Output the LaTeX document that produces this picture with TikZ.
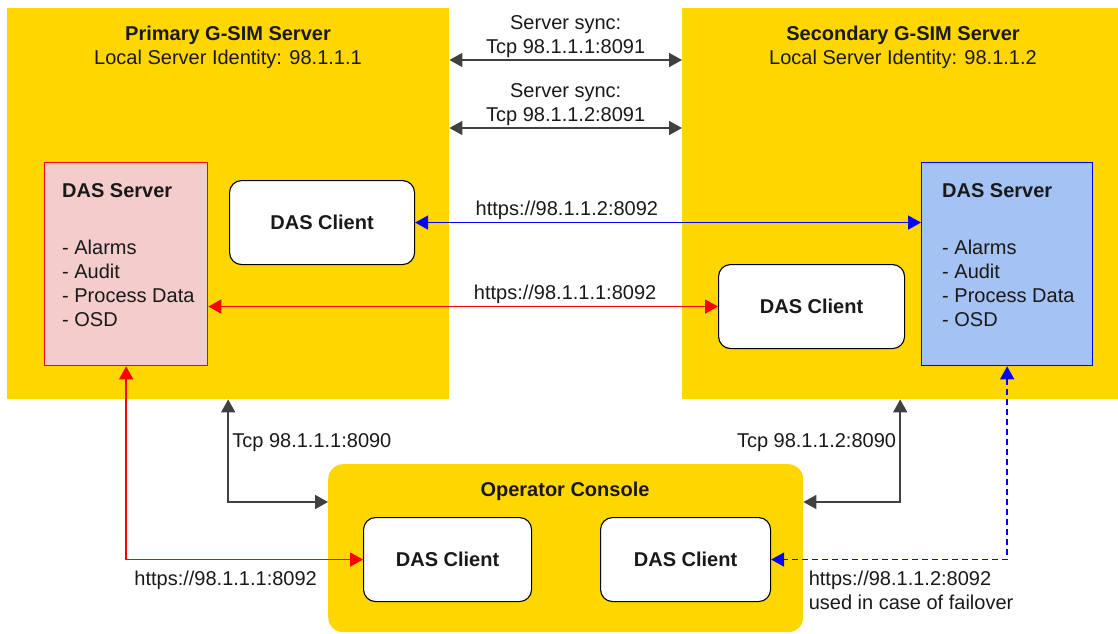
\documentclass[tikz,border=0pt]{standalone}
\usepackage{fontspec}
\setmainfont{Liberation Sans}
\usetikzlibrary{arrows.meta}
\definecolor{gold}{HTML}{FFD700}
\definecolor{pinkbox}{HTML}{F4CCCC}
\definecolor{bluebox}{HTML}{A4C2F4}
\definecolor{darkline}{HTML}{404040}
\newcommand\diafont{\fontsize{20}{24}\selectfont}
\begin{document}
\begin{tikzpicture}[x=1pt, y=-1pt,
    every node/.style={font=\diafont, text=black!90},
    >={Triangle[length=13pt,width=14pt]},
    area/.style={anchor=north west, fill=gold, inner sep=0},
    server/.style={anchor=north west, inner sep=0, line width=1.3pt,
      minimum width=163, minimum height=203},
    client/.style={anchor=north west, draw=black, fill=white, line width=1.1pt,
      rounded corners=12pt, minimum width=185, minimum height=84, font=\diafont\bfseries},
    dark/.style={draw=darkline, line width=1.7pt},
    redl/.style={draw=red, line width=1.5pt},
    bluel/.style={draw=blue, line width=1.5pt},
    lab/.style={inner sep=2pt}]
    \useasboundingbox (0,0) rectangle (1118,633);
    % servers and console
    \node[area, minimum width=442, minimum height=391] (prim) at (7,8) {};
    \node[area, minimum width=436, minimum height=391] (sec) at (682,8) {};
    \node[area, rounded corners=15pt, minimum width=475, minimum height=168] (con) at (328,464) {};
    \node[align=center] (primtitle) at (228,47) {\textbf{Primary G-SIM Server}\\Local Server Identity: 98.1.1.1};
    \node[align=center] (sectitle) at (903,47) {\textbf{Secondary G-SIM Server}\\Local Server Identity: 98.1.1.2};
    \node (contitle) at (565,491) {\textbf{Operator Console}};
    % DAS servers
    \node[server, draw=red, fill=pinkbox] (pds) at (44,162) {};
    \node[server, draw=blue, fill=bluebox, minimum width=171] (sds) at (921,162) {};
    \node[anchor=north west, align=left, inner sep=0] (pdstext) at ([xshift=18pt,yshift=-21pt]pds.north west)
      {\textbf{DAS Server}\\[33pt]- Alarms\\- Audit\\- Process Data\\- OSD};
    \node[anchor=north west, align=left, inner sep=0] (sdstext) at ([xshift=21pt,yshift=-21pt]sds.north west)
      {\textbf{DAS Server}\\[33pt]- Alarms\\- Audit\\- Process Data\\- OSD};
    % DAS clients
    \node[client] (pcli) at (229,180) {DAS Client};
    \node[client, minimum width=186] (scli) at (718,264) {DAS Client};
    \node[client, minimum width=168] (c1) at (363,517) {DAS Client};
    \node[client, minimum width=170] (c2) at (600,517) {DAS Client};
    % sync links
    \draw[dark, <->] ([yshift=-52pt]prim.north east) -- ([yshift=-52pt]sec.north west)
      node[midway, above, align=center, lab] {Server sync:\\Tcp 98.1.1.1:8091};
    \draw[dark, <->] ([yshift=-120pt]prim.north east) -- ([yshift=-120pt]sec.north west)
      node[midway, above, align=center, lab] {Server sync:\\Tcp 98.1.1.2:8091};
    % https links
    \draw[bluel, <->] (pcli.east) -- (pcli.east -| sds.west)
      node[pos=.3, above, lab] {https://98.1.1.2:8092};
    \draw[redl, <->] (pds.east |- scli.west) -- (scli.west)
      node[pos=.7, above, lab] {https://98.1.1.1:8092};
    % console links
    \draw[dark, <->] (prim.south) |- ([yshift=-38pt]con.north west)
      node[pos=.21, right] {Tcp 98.1.1.1:8090};
    \draw[dark, <->] (sec.south) |- ([yshift=-38pt]con.north east)
      node[pos=.21, left] {Tcp 98.1.1.2:8090};
    \draw[redl, <->] (pds.south) |- (c1.west)
      node[pos=.71, below=9pt, lab] {https://98.1.1.1:8092};
    \draw[bluel, dash pattern=on 6pt off 4pt, <->] (sds.south) |- (c2.east)
      node[pos=.926, below right, align=left, lab, yshift=-9pt] {https://98.1.1.2:8092\\used in case of failover};
\end{tikzpicture}
\end{document}
